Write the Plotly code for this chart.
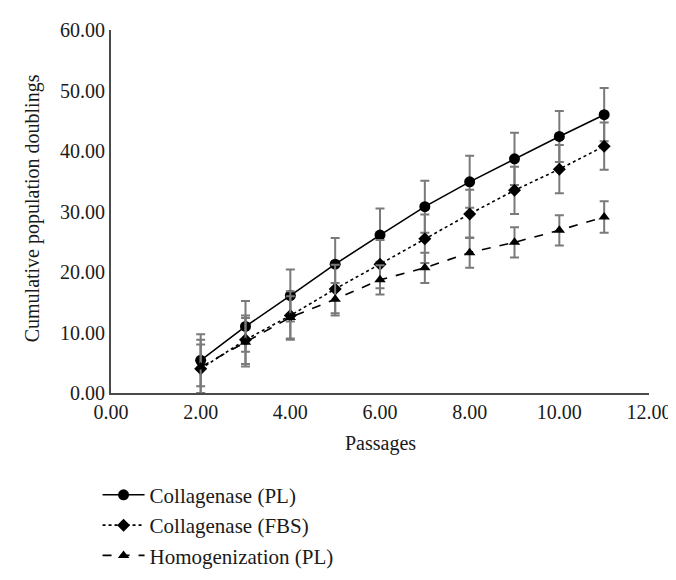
import plotly.graph_objects as go

passages = [2, 3, 4, 5, 6, 7, 8, 9, 10, 11]

coll_pl = [5.4, 11.0, 16.1, 21.3, 26.1, 30.8, 34.9, 38.7, 42.4, 46.0]
coll_pl_err = [4.3, 4.2, 4.3, 4.3, 4.4, 4.3, 4.3, 4.3, 4.2, 4.4]

coll_fbs = [4.0, 8.8, 12.8, 17.2, 21.3, 25.5, 29.6, 33.5, 37.0, 40.8]
coll_fbs_err = [4.0, 4.0, 4.0, 4.0, 4.0, 4.0, 4.0, 3.9, 4.0, 3.9]

homog_pl = [4.3, 8.4, 12.5, 15.5, 18.7, 20.7, 23.2, 24.9, 26.9, 29.1]
homog_pl_err = [4.5, 4.0, 3.5, 2.7, 2.4, 2.5, 2.5, 2.5, 2.5, 2.6]

series_names = ["Collagenase (PL)", "Collagenase (FBS)", "Homogenization (PL)"]

FONT = "Liberation Serif, Times New Roman, serif"
TXT = "#1a1a1a"
ERR = "#7a7a7a"

fig = go.Figure()

def add(name, y, err, dash, symbol, size):
    fig.add_trace(go.Scatter(
        x=passages, y=y, name=name, mode="lines+markers",
        line=dict(color="black", width=1.6, dash=dash),
        marker=dict(symbol=symbol, size=size, color="black"),
        error_y=dict(type="data", array=err, visible=True,
                     color=ERR, thickness=2, width=4.5),
    ))

add(series_names[0], coll_pl, coll_pl_err, "solid", "circle", 11)
add(series_names[1], coll_fbs, coll_fbs_err, "dot", "diamond", 10)
add(series_names[2], homog_pl, homog_pl_err, "dash", "triangle-up", 10)

fig.update_layout(
    width=676, height=580,
    margin=dict(l=103, r=35, t=22, b=181),
    paper_bgcolor="white", plot_bgcolor="white",
    font=dict(family=FONT, size=20, color=TXT),
    showlegend=True,
    legend=dict(x=-0.025, y=-0.225, xanchor="left", yanchor="top",
                orientation="v", bgcolor="rgba(0,0,0,0)",
                font=dict(family=FONT, size=21, color=TXT),
                itemwidth=42, tracegroupgap=0),
    xaxis=dict(range=[0, 12], dtick=2, tick0=0, tickformat=".2f",
               showgrid=False, zeroline=False, showline=True,
               linecolor="#4a4a4a", linewidth=2, ticks="",
               tickfont=dict(family=FONT, size=20, color=TXT)),
    yaxis=dict(range=[0, 60], dtick=10, tick0=0, tickformat=".2f",
               showgrid=False, zeroline=False, showline=True,
               linecolor="#4a4a4a", linewidth=2, ticks="",
               tickfont=dict(family=FONT, size=20, color=TXT)),
    annotations=[
        dict(text="Passages", xref="paper", yref="paper", x=0.5, y=-0.14,
             xanchor="center", yanchor="middle", showarrow=False,
             font=dict(family=FONT, size=20, color=TXT)),
        dict(text="Cumulative population doublings", xref="paper", yref="paper",
             x=-0.146, y=0.51, xanchor="center", yanchor="middle",
             textangle=-90, showarrow=False,
             font=dict(family=FONT, size=20, color=TXT)),
    ],
)

fig.write_html("out.html")
